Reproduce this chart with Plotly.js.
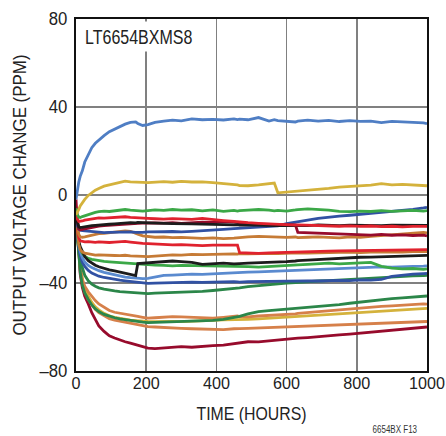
<!DOCTYPE html>
<html><head><meta charset="utf-8">
<script src="https://cdn.plot.ly/plotly-3.0.1.min.js"></script>
<style>html,body{margin:0;padding:0;background:#fff}#chart{width:446px;height:436px}</style>
</head><body><div id="chart"></div>
<script>
const hours = [0,4,8,12,18,25,35,45,55,65,80,95,110,125,140,155,170,176,190,205,225,250,275,300,330,360,390,420,450,460,466,490,520,550,565,575,600,625,632,660,690,720,750,780,810,840,870,900,930,960,990,1000];

const blueTop = [-2,3,6,8.5,11,15,18.5,21.5,23.5,25,27,28.8,30,31,32.2,33,33.2,32.5,31.6,32,33,33.6,34,33.7,34.6,34.2,34.4,34.1,34.6,34.3,34.5,34.2,35.2,33.6,34.2,33.8,33.5,33.2,33.6,34.0,33.6,33.9,33.4,33.8,33.5,33.6,32.9,33.5,33.2,33.1,32.8,32.4];
const yellowTop = [-9,-8,-6.5,-5,-3.5,-2,-0.2,1.2,2.2,3,4,4.6,5.2,5.9,6.3,6.0,5.8,5.6,5.7,5.6,5.9,6.1,5.8,6.2,5.9,6.0,5.6,5.3,4.9,4.6,4.3,4.2,4.6,5.0,5.4,1.0,1.3,1.6,1.8,2.2,2.6,3.0,3.6,3.9,4.3,4.5,5.2,4.6,4.8,4.5,4.3,4.2];
const greenA = [-6,-9,-10,-10.2,-9.8,-9.4,-8.8,-8.2,-7.9,-7.6,-7.3,-7.5,-7.2,-6.9,-6.6,-6.9,-7.2,-7.0,-7.3,-7.1,-6.8,-7.0,-6.6,-6.9,-6.7,-7.2,-6.8,-7.4,-7.0,-7.3,-7.1,-6.9,-6.6,-6.9,-7.2,-7.0,-7.3,-6.8,-6.6,-6.3,-6.5,-6.9,-7.4,-7.6,-7.3,-7.5,-7.1,-7.4,-7.2,-7.0,-7.3,-7.1];
const redA = [-8,-11,-12,-12,-11.8,-11.4,-11.2,-10.8,-10.6,-10.4,-10.5,-10.3,-10.0,-9.8,-9.9,-10.2,-10.4,-10.5,-10.6,-10.6,-10.8,-11.0,-10.7,-10.9,-11.1,-10.6,-11.2,-11.6,-12.0,-12.2,-12.4,-12.6,-12.9,-13.2,-13.3,-13.4,-13.5,-13.7,-13.6,-13.8,-14.0,-13.9,-14.2,-14.0,-14.3,-14.1,-14.4,-14.2,-14.5,-14.3,-14.4,-14.3];
const blackA = [-10,-13,-14.5,-14.8,-14.6,-14.4,-14.2,-13.9,-13.8,-13.6,-13.4,-13.3,-13.1,-12.9,-12.8,-12.6,-12.7,-12.5,-12.6,-12.6,-12.8,-12.9,-13.0,-12.9,-13.1,-13.2,-13.4,-13.5,-13.6,-13.5,-13.7,-13.6,-13.8,-13.7,-13.9,-13.8,-13.9,-13.7,-13.8,-13.9,-13.6,-13.8,-13.9,-13.7,-13.8,-13.6,-13.9,-13.7,-13.8,-13.6,-13.9,-13.8];
const crimsonA = [-8,-13,-15.5,-15.8,-15.6,-15.2,-14.9,-14.6,-14.4,-14.1,-13.9,-13.7,-13.5,-13.4,-13.3,-13.1,-13.0,-12.9,-12.8,-12.9,-12.7,-12.8,-12.6,-12.9,-12.5,-12.3,-12.4,-12.1,-12.3,-12.5,-12.8,-13.0,-13.2,-13.3,-13.1,-13.4,-13.5,-13.6,-17.0,-17.2,-17.4,-17.6,-17.8,-18.1,-18.0,-18.2,-17.9,-18.3,-18.1,-18.4,-18.2,-18.6];
const blueA = [-10,-14,-15.5,-16,-16.2,-16.3,-16.6,-16.8,-16.9,-17.0,-17.1,-17.0,-16.9,-16.8,-16.7,-16.8,-17.0,-16.9,-17.0,-16.8,-16.9,-16.7,-16.6,-16.8,-16.5,-16.3,-16.0,-15.6,-15.3,-15.2,-15.3,-15.1,-14.8,-14.5,-14.2,-14.0,-13.0,-12.2,-12.0,-11.4,-10.6,-10.0,-9.6,-9.2,-8.8,-8.4,-8.0,-7.5,-7.0,-6.5,-5.9,-5.6];
const orangeA = [-10,-15,-18,-19,-19.2,-19.0,-18.6,-18.2,-17.9,-17.6,-17.4,-17.2,-17.0,-16.6,-16.3,-16.5,-17.2,-17.8,-18.6,-19.0,-19.2,-19.1,-19.4,-19.3,-19.6,-19.7,-19.5,-19.8,-19.6,-19.4,-19.2,-19.0,-18.8,-19.0,-19.2,-19.0,-19.3,-19.1,-19.4,-19.2,-19.0,-19.3,-19.5,-19.0,-19.2,-18.8,-18.4,-18.0,-17.6,-17.3,-17.0,-17.2];
const redB = [-10,-16,-19.5,-20.8,-21.2,-21.3,-21.2,-21.4,-21.5,-21.3,-21.5,-21.6,-21.4,-21.2,-21.1,-21.4,-21.7,-21.9,-22.0,-22.1,-22.3,-22.5,-22.7,-22.6,-22.9,-23.0,-22.8,-22.9,-22.7,-22.8,-26.2,-26.4,-26.5,-26.3,-26.2,-26.3,-26.1,-26.0,-25.8,-25.7,-25.6,-25.5,-25.4,-25.3,-25.2,-25.0,-25.1,-24.9,-24.8,-24.9,-24.7,-24.8];
const orangeB = [-11,-18,-22.5,-24.8,-25.9,-26.4,-26.8,-27.1,-27.3,-27.2,-27.4,-27.3,-27.5,-27.6,-27.4,-27.7,-27.9,-28.0,-27.9,-28.0,-27.7,-27.4,-27.2,-27.3,-27.0,-27.1,-26.9,-27.0,-26.8,-26.9,-26.7,-26.8,-26.6,-26.7,-26.5,-26.6,-26.4,-26.5,-26.3,-26.4,-26.2,-26.3,-26.1,-26.0,-26.2,-25.9,-26.0,-25.8,-25.9,-25.7,-25.8,-25.7];
const greenB = [-12,-18,-22,-24.5,-26.5,-27.8,-28.8,-29.3,-29.6,-29.9,-30.2,-30.4,-30.6,-30.8,-31.0,-31.2,-31.4,-31.5,-31.7,-31.8,-31.9,-32.0,-32.2,-32.0,-32.1,-32.2,-32.0,-32.1,-32.3,-32.2,-32.4,-32.6,-32.8,-32.6,-32.4,-32.5,-32.2,-31.9,-31.8,-31.5,-31.2,-31.0,-31.3,-31.1,-30.9,-30.6,-32.4,-33.2,-33.6,-33.4,-33.8,-33.6];
const blackB = [-12,-17,-21,-23.5,-26,-28,-29.8,-31.0,-31.9,-32.6,-33.4,-34.0,-34.5,-35.0,-35.4,-35.9,-36.6,-31.2,-31.0,-30.8,-30.6,-30.1,-30.0,-30.3,-30.6,-31.5,-31.2,-31.0,-31.3,-31.4,-31.2,-31.0,-30.8,-30.9,-30.6,-30.5,-30.3,-30.0,-29.8,-29.6,-29.3,-29.0,-28.8,-28.5,-28.3,-28.2,-28.0,-27.9,-27.8,-27.6,-27.5,-27.4];
const lightBlue = [-12,-18,-22.5,-25.5,-28.5,-30.5,-32.0,-33.0,-33.8,-34.4,-35.2,-35.8,-36.3,-36.8,-37.3,-37.6,-37.8,-37.9,-38.0,-37.9,-37.2,-36.5,-36.4,-36.2,-36.0,-36.1,-35.8,-35.6,-35.4,-35.3,-35.2,-35.1,-34.9,-34.7,-34.5,-34.6,-34.4,-34.2,-34.1,-33.9,-33.6,-33.5,-33.3,-33.2,-33.0,-32.9,-32.7,-32.8,-32.5,-32.4,-32.3,-32.2];
const blueB = [-12,-19,-24,-27.5,-30.5,-32.5,-34.3,-35.5,-36.3,-36.9,-37.5,-38.0,-38.4,-38.7,-39.0,-39.3,-39.6,-39.8,-40.0,-40.2,-40.1,-39.9,-39.8,-39.7,-39.6,-39.7,-39.5,-39.6,-39.4,-39.5,-39.6,-39.4,-39.3,-39.5,-39.4,-39.2,-39.3,-39.1,-39.2,-39.0,-39.1,-38.9,-38.8,-38.9,-38.6,-38.7,-38.4,-37.0,-36.4,-36.0,-35.7,-35.6];
const greenC = [-12,-20,-26,-30,-33.5,-36.5,-39.0,-40.5,-41.5,-42.2,-42.8,-43.3,-43.6,-43.9,-44.1,-44.3,-44.5,-44.6,-44.7,-44.8,-44.6,-44.5,-44.3,-44.2,-44.1,-43.8,-43.4,-43.0,-42.5,-42.3,-42.2,-41.6,-41.1,-40.7,-40.5,-40.4,-40.1,-39.8,-39.7,-39.4,-39.1,-38.9,-38.6,-38.4,-38.2,-38.0,-37.7,-37.3,-37.0,-36.8,-36.6,-36.5];
const greenD = [-10,-18,-27,-35,-41,-44.5,-47.5,-50.0,-51.8,-53.0,-54.3,-55.2,-55.8,-56.3,-56.7,-57.0,-57.3,-57.5,-57.8,-58.0,-57.9,-57.7,-57.8,-57.6,-57.5,-57.2,-57.0,-56.5,-55.8,-55.5,-55.2,-54.0,-53.0,-52.6,-52.4,-52.3,-52.0,-51.6,-51.5,-51.0,-50.6,-50.2,-49.8,-49.2,-48.6,-48.2,-47.6,-47.1,-46.8,-46.4,-46.0,-45.9];
const orangeC = [-10,-17,-26,-33,-38.5,-41.5,-44.0,-46.2,-48.0,-49.5,-51.0,-52.5,-53.3,-53.8,-54.3,-54.6,-55.0,-55.2,-55.6,-56.0,-55.8,-55.5,-55.3,-55.4,-55.6,-55.8,-56.0,-55.6,-55.2,-55.0,-55.3,-55.4,-55.0,-54.8,-54.6,-54.5,-54.4,-54.0,-53.8,-53.4,-53.0,-52.8,-52.3,-51.8,-51.4,-51.0,-50.6,-50.4,-50.0,-49.8,-49.5,-49.6];
const yellowB = [-8,-16,-25,-32,-38,-42.5,-46.0,-48.8,-50.8,-52.2,-53.8,-54.9,-55.6,-56.1,-56.6,-56.9,-57.1,-57.2,-57.3,-57.5,-57.6,-57.4,-57.5,-57.6,-57.3,-57.2,-57.0,-56.8,-56.8,-56.6,-56.7,-56.5,-56.3,-56.0,-55.8,-55.7,-55.5,-55.3,-55.2,-55.0,-54.7,-54.5,-54.1,-53.8,-53.5,-53.2,-52.8,-52.5,-52.2,-51.9,-51.6,-51.5];
const orangeD = [-10,-18,-27,-34,-40,-44,-47.5,-50.0,-52.0,-53.5,-55.0,-56.2,-56.9,-57.4,-57.8,-58.3,-58.8,-59.0,-59.4,-59.8,-60.0,-60.3,-60.5,-60.6,-60.8,-61.0,-61.3,-61.2,-60.8,-60.6,-60.7,-60.6,-60.4,-60.5,-60.3,-60.2,-60.2,-60.0,-59.9,-59.7,-59.5,-59.4,-59.0,-59.0,-58.8,-58.6,-58.2,-58.0,-57.9,-57.7,-57.6,-57.5];
const crimsonB = [-2,-15,-27,-36,-42,-46,-49.5,-53.5,-56.5,-59.5,-62.0,-64.0,-65.0,-66.0,-66.7,-67.3,-68.0,-68.3,-69.0,-69.6,-69.8,-69.6,-69.3,-68.9,-69.2,-68.7,-68.5,-68.2,-67.6,-67.2,-67.0,-66.7,-66.8,-66.3,-66.2,-65.8,-65.6,-65.3,-65.1,-64.8,-64.5,-64.0,-63.6,-63.2,-62.8,-62.3,-61.8,-61.4,-61.0,-60.6,-60.2,-60.0];

const xTickVals = [0,200,400,600,800,1000];
const xTickText = ['0','200','400','600','800','1000'];
const yTickVals = [-80,-40,0,40,80];
const yTickText = ['\u201380','\u201340','0','40','80'];

const C = {blue:'#4f7ec4', yellow:'#d4b23c', green:'#3ba847', red:'#e0222e', black:'#1c1c1c', crimson:'#970b2c', dblue:'#3151a3', brown:'#c67b36', salmon:'#d6804a', lblue:'#5a8acf', dgreen:'#2b8649'};

const series = [
  [crimsonB, C.crimson],[orangeD, C.salmon],[yellowB, C.yellow],[orangeC, C.salmon],[greenD, C.dgreen],
  [greenC, C.dgreen],[blueB, C.dblue],[lightBlue, C.lblue],[greenB, C.green],[blackB, C.black],
  [orangeB, C.brown],[redB, C.red],[orangeA, C.brown],[blueA, C.dblue],[crimsonA, C.crimson],
  [blackA, C.black],[redA, C.red],[greenA, C.green],[yellowTop, C.yellow],[blueTop, C.blue]
];
const traces = series.map(([y,c]) => ({x: hours, y: y, type:'scatter', mode:'lines', line:{color:c, width:2.8}, hoverinfo:'skip'}));

const font = 'Liberation Sans, Arial, sans-serif';
const layout = {
  width:446, height:436, showlegend:false,
  margin:{l:76, r:19, t:19, b:65},
  paper_bgcolor:'#fff', plot_bgcolor:'#fff',
  font:{family:font, size:18, color:'#222'},
  xaxis:{range:[0,1000], tickvals:xTickVals, ticktext:xTickText, showgrid:true, gridcolor:'#808080', gridwidth:1.5,
    showline:true, mirror:true, linecolor:'#111', linewidth:2, zeroline:false, ticks:'', ticklabelstandoff:-4,
    ticklabeloverflow:'allow', tickfont:{family:font, size:17, color:'#222'},
    title:{text:'TIME (HOURS)', font:{family:font, size:18, color:'#222'}, standoff:15}},
  yaxis:{range:[-80,80], tickvals:yTickVals, ticktext:yTickText, showgrid:true, gridcolor:'#808080', gridwidth:1.5,
    showline:true, mirror:true, linecolor:'#111', linewidth:2, zeroline:false, ticks:'', ticklabelstandoff:3,
    title:{text:'OUTPUT VOLTAGE CHANGE (PPM)', font:{family:font, size:18, color:'#222'}, standoff:6}},
  annotations:[
    {text:'LT6654BXMS8', xref:'paper', yref:'paper', x:0.0228, y:0.994, xanchor:'left', yanchor:'top',
     width:120, height:29, align:'left', valign:'middle', bgcolor:'#fff', showarrow:false, borderpad:0,
     font:{family:font, size:20, color:'#222'}},
    {text:'6654BX F13', xref:'paper', yref:'paper', x:0.995, y:-0.145, xanchor:'right', yanchor:'top', showarrow:false,
     font:{family:font, size:10, color:'#333'}}
  ]
};
function squeeze(sel, ratio){
  document.querySelectorAll(sel).forEach(t => {
    const L = t.getComputedTextLength();
    if (L > 0) { t.setAttribute('textLength', (L*ratio).toFixed(1)); t.setAttribute('lengthAdjust','spacingAndGlyphs'); }
  });
}
Plotly.newPlot('chart', traces, layout, {staticPlot:true, displayModeBar:false}).then(() => {
  squeeze('.xtick text', 0.95);
  squeeze('.ytick text', 0.93);
  squeeze('.g-xtitle text', 0.88);
  squeeze('.g-ytitle text', 0.94);
  squeeze('.annotation-text', 0.8);
});
</script></body></html>
